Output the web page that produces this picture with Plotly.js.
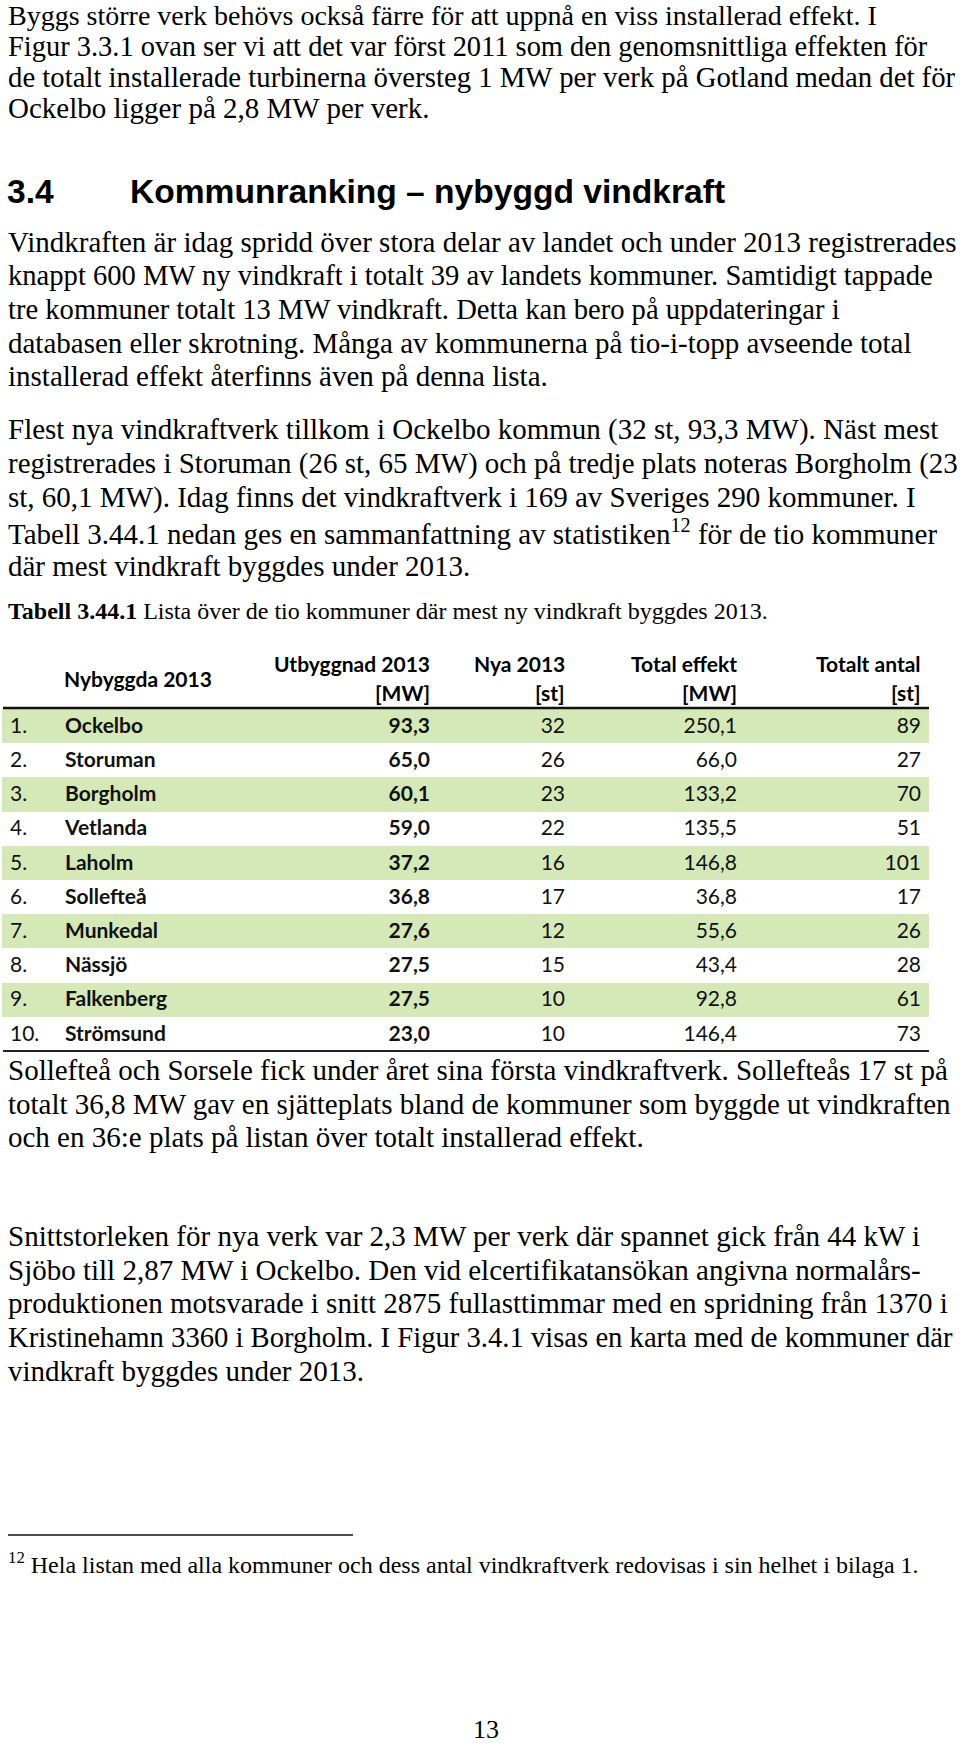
<!DOCTYPE html>
<html>
<head>
<meta charset="utf-8">
<script src="https://cdn.plot.ly/plotly-3.0.1.min.js"></script>
<style>
  html, body { margin: 0; padding: 0; background: #ffffff; overflow: hidden; }
  #chart { width: 960px; height: 1744px; }
</style>
</head>
<body>
<div id="chart"></div>
<script>
// ---- Table data ----
const ranks = ['1.', '2.', '3.', '4.', '5.', '6.', '7.', '8.', '9.', '10.'];
const kommuner = ['Ockelbo', 'Storuman', 'Borgholm', 'Vetlanda', 'Laholm', 'Sollefteå', 'Munkedal', 'Nässjö', 'Falkenberg', 'Strömsund'];
const utbyggnadMW = [93.3, 65.0, 60.1, 59.0, 37.2, 36.8, 27.6, 27.5, 27.5, 23.0];
const nyaSt = [32, 26, 23, 22, 16, 17, 12, 15, 10, 10];
const totalEffektMW = [250.1, 66.0, 133.2, 135.5, 146.8, 36.8, 55.6, 43.4, 92.8, 146.4];
const totaltAntalSt = [89, 27, 70, 51, 101, 17, 26, 28, 61, 73];

// ---- Column headings ----
const headTop = ['', 'Nybyggda 2013', 'Utbyggnad 2013', 'Nya 2013', 'Total effekt', 'Totalt antal'];
const headUnit = ['', '', '[MW]', '[st]', '[MW]', '[st]'];

// ---- Page text ----
const para1 = [
  'Byggs större verk behövs också färre för att uppnå en viss installerad effekt. I',
  'Figur 3.3.1 ovan ser vi att det var först 2011 som den genomsnittliga effekten för',
  'de totalt installerade turbinerna översteg 1 MW per verk på Gotland medan det för',
  'Ockelbo ligger på 2,8 MW per verk.'
];
const headingNum = '3.4';
const headingText = 'Kommunranking – nybyggd vindkraft';
const para2 = [
  'Vindkraften är idag spridd över stora delar av landet och under 2013 registrerades',
  'knappt 600 MW ny vindkraft i totalt 39 av landets kommuner. Samtidigt tappade',
  'tre kommuner totalt 13 MW vindkraft. Detta kan bero på uppdateringar i',
  'databasen eller skrotning. Många av kommunerna på tio-i-topp avseende total',
  'installerad effekt återfinns även på denna lista.'
];
const para3 = [
  'Flest nya vindkraftverk tillkom i Ockelbo kommun (32 st, 93,3 MW). Näst mest',
  'registrerades i Storuman (26 st, 65 MW) och på tredje plats noteras Borgholm (23',
  'st, 60,1 MW). Idag finns det vindkraftverk i 169 av Sveriges 290 kommuner. I',
  'Tabell 3.44.1 nedan ges en sammanfattning av statistiken<sup>12</sup> för de tio kommuner',
  'där mest vindkraft byggdes under 2013.'
];
const caption = '<b>Tabell 3.44.1</b> Lista över de tio kommuner där mest ny vindkraft byggdes 2013.';
const para4 = [
  'Sollefteå och Sorsele fick under året sina första vindkraftverk. Sollefteås 17 st på',
  'totalt 36,8 MW gav en sjätteplats bland de kommuner som byggde ut vindkraften',
  'och en 36:e plats på listan över totalt installerad effekt.'
];
const para5 = [
  'Snittstorleken för nya verk var 2,3 MW per verk där spannet gick från 44 kW i',
  'Sjöbo till 2,87 MW i Ockelbo. Den vid elcertifikatansökan angivna normalårs-',
  'produktionen motsvarade i snitt 2875 fullasttimmar med en spridning från 1370 i',
  'Kristinehamn 3360 i Borgholm. I Figur 3.4.1 visas en karta med de kommuner där',
  'vindkraft byggdes under 2013.'
];
const footnote = '<sup>12</sup> Hela listan med alla kommuner och dess antal vindkraftverk redovisas i sin helhet i bilaga 1.';
const pageNumber = '13';

// ---- Styling ----
const SERIF = 'Liberation Serif, Times New Roman, serif';
const SANS = 'Liberation Sans, Arial, sans-serif';
const CAL = 'Lato, Carlito, Calibri, sans-serif';
const GREEN = '#d4e9b7';
const W = 960, H = 1744;

const fmt1 = v => v.toFixed(1).replace('.', ',');
const rowFill = ranks.map((r, i) => (i % 2 === 0 ? GREEN : '#ffffff'));

const annotations = [];
function textLine(text, x, y, opts) {
  opts = opts || {};
  annotations.push({
    text: text, x: x, y: y, xref: 'x', yref: 'y',
    xanchor: opts.xanchor || 'left', yanchor: 'middle',
    showarrow: false, borderpad: 0, borderwidth: 0,
    font: { family: opts.family || SERIF, size: opts.size || 29, color: '#000000' }
  });
}
function paragraph(lines, x, y0, dy, sizes) {
  lines.forEach((t, i) => textLine(t, x, y0 + i * dy, { size: (sizes && sizes[i]) || 29 }));
}

paragraph(para1, 8, 15, 31, [28.0, 28.45, 28.75, 29]);
textLine('<b>' + headingNum + '</b>', 7, 191, { family: SANS, size: 33.6 });
textLine('<b>' + headingText + '</b>', 130, 191, { family: SANS, size: 33.6 });
paragraph(para2, 8, 242, 33.6, [29, 28.6, 28.6, 29, 29]);
paragraph(para3, 8, 429, 34.2);
textLine(caption, 8, 611, { size: 24 });
paragraph(para4, 8, 1070, 33.6);
paragraph(para5, 8, 1236, 33.7, [29, 29, 29, 28.65, 29]);
textLine(footnote, 8, 1563, { size: 24 });
textLine(pageNumber, 486, 1729, { xanchor: 'center', size: 26 });

// column header labels (drawn above the table body)
const headRight = [null, null, 430, 565, 737, 921];
headTop.forEach((t, i) => {
  if (!t) return;
  if (i === 1) {
    textLine('<b>' + t + '</b>', 64, 678, { family: CAL, size: 21 });
  } else {
    textLine('<b>' + t + '</b>', headRight[i], 663, { family: CAL, size: 21, xanchor: 'right' });
    textLine('<b>' + headUnit[i] + '</b>', headRight[i], 692, { family: CAL, size: 21, xanchor: 'right' });
  }
});

const colPx = [55, 193, 188, 135, 172, 184];
const tableLeft = 2, tableRight = 929;
const tableTop = 707, tableBottom = 1075;

const table = {
  type: 'table',
  domain: {
    x: [tableLeft / W, tableRight / W],
    y: [1 - tableBottom / H, 1 - tableTop / H]
  },
  columnwidth: colPx,
  header: {
    values: headTop.map(() => ''),
    height: 2,
    fill: { color: '#ffffff' },
    line: { width: 0, color: '#ffffff' }
  },
  cells: {
    values: [
      ranks,
      kommuner,
      utbyggnadMW.map(fmt1),
      nyaSt.map(String),
      totalEffektMW.map(fmt1),
      totaltAntalSt.map(String)
    ],
    align: ['left', 'left', 'right', 'right', 'right', 'right'],
    height: 34.2,
    fill: { color: [rowFill] },
    line: { width: 0, color: 'rgba(0,0,0,0)' },
    font: {
      family: CAL, size: 21, color: '#111111',
      weight: ['normal', 'bold', 'bold', 'normal', 'normal', 'normal']
    }
  }
};

const shapes = [
  { type: 'line', xref: 'x', yref: 'y', x0: 3, x1: 929, y0: 708, y1: 708, line: { color: '#111111', width: 2.5 } },
  { type: 'line', xref: 'x', yref: 'y', x0: 3, x1: 929, y0: 1051, y1: 1051, line: { color: '#222222', width: 2 } },
  { type: 'line', xref: 'x', yref: 'y', x0: 8, x1: 353, y0: 1535, y1: 1535, line: { color: '#111111', width: 1.6 } }
];

const layout = {
  width: W, height: H,
  margin: { l: 0, r: 0, t: 0, b: 0, pad: 0 },
  paper_bgcolor: '#ffffff', plot_bgcolor: 'rgba(0,0,0,0)',
  showlegend: false,
  xaxis: { range: [0, W], visible: false, fixedrange: true },
  yaxis: { range: [H, 0], visible: false, fixedrange: true },
  annotations: annotations,
  shapes: shapes
};

Plotly.newPlot('chart', [table], layout, { staticPlot: true, displayModeBar: false });
</script>
</body>
</html>
